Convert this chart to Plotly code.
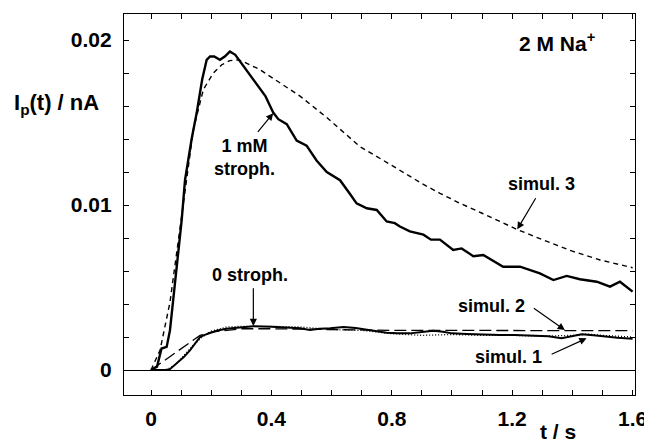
import plotly.graph_objects as go

# ---- data ----
t_1mM = [0.00, 0.02, 0.035, 0.052, 0.063, 0.085, 0.102, 0.113, 0.135, 0.152, 0.170, 0.185,
         0.196, 0.210, 0.229, 0.245, 0.262, 0.280, 0.296, 0.320, 0.351, 0.380, 0.406, 0.423,
         0.451, 0.484, 0.517, 0.550, 0.584, 0.610, 0.628, 0.660, 0.683, 0.717, 0.750, 0.783,
         0.810, 0.827, 0.860, 0.905, 0.930, 0.960, 1.004, 1.032, 1.071, 1.104, 1.170, 1.226,
         1.292, 1.337, 1.381, 1.425, 1.481, 1.525, 1.558, 1.600]
I_1mM = [0.0, 0.0002, 0.0013, 0.0014, 0.0024, 0.0060, 0.0091, 0.0115, 0.0140, 0.0156, 0.0176, 0.0188,
         0.0190, 0.0190, 0.0188, 0.0190, 0.0193, 0.0191, 0.0187, 0.0181, 0.0174, 0.0166, 0.0156, 0.0152,
         0.0149, 0.0139, 0.0136, 0.0127, 0.0120, 0.0117, 0.0115, 0.0107, 0.0101, 0.0098, 0.0097, 0.0090,
         0.0089, 0.0087, 0.0084, 0.0082, 0.0079, 0.0079, 0.00727, 0.00737, 0.0069, 0.00697, 0.00626, 0.00626,
         0.00586, 0.00545, 0.0057, 0.0055, 0.00535, 0.00505, 0.00535, 0.00475]

t_sim3 = [0.0, 0.03, 0.063, 0.096, 0.12, 0.141, 0.174, 0.207, 0.235, 0.262, 0.290, 0.306, 0.362,
          0.395, 0.495, 0.584, 0.694, 0.80, 0.90, 0.96, 1.027, 1.10, 1.215, 1.30, 1.40, 1.492, 1.60]
I_sim3 = [0.0, 0.0012, 0.0041, 0.0085, 0.0120, 0.0146, 0.0170, 0.0180, 0.0185, 0.01875, 0.0188, 0.0187, 0.0182,
          0.0178, 0.0166, 0.0153, 0.01354, 0.0124, 0.0113, 0.01071, 0.0101, 0.0095, 0.00853, 0.0079, 0.0072, 0.00667, 0.0062]

t_0 = [0.0, 0.047, 0.063, 0.085, 0.11, 0.13, 0.15, 0.163, 0.174, 0.19, 0.207, 0.218, 0.25, 0.28,
       0.34, 0.40, 0.45, 0.495, 0.528, 0.56, 0.595, 0.64, 0.68, 0.717, 0.75, 0.783, 0.82, 0.86,
       0.90, 0.938, 0.97, 1.00, 1.049, 1.10, 1.16, 1.209, 1.27, 1.32, 1.364, 1.40, 1.431, 1.47,
       1.508, 1.55, 1.60]
I_0 = [0.0, 0.0, 0.00005, 0.0004, 0.0008, 0.0012, 0.0017, 0.0020, 0.0021, 0.0022, 0.00232, 0.00238, 0.0025, 0.00256,
       0.00265, 0.00262, 0.00258, 0.00253, 0.00243, 0.0025, 0.00253, 0.0026, 0.00255, 0.00246, 0.00238, 0.00226, 0.00222, 0.00222,
       0.0023, 0.00238, 0.00232, 0.00222, 0.00218, 0.00214, 0.00212, 0.00212, 0.00206, 0.00204, 0.00192, 0.00205, 0.00216, 0.0021,
       0.00202, 0.00195, 0.00190]

t_sim1 = [0.0, 0.05, 0.08, 0.11, 0.14, 0.17, 0.2, 0.25, 0.3, 0.4, 0.5, 0.6, 0.7, 0.8, 0.9, 1.0,
          1.1, 1.2, 1.3, 1.4, 1.45, 1.5, 1.6]
I_sim1 = [0.0, 0.0, 0.0003, 0.0009, 0.0015, 0.0020, 0.00235, 0.0026, 0.00265, 0.00265, 0.0026, 0.00245, 0.0024,
          0.0022, 0.0021, 0.00215, 0.0021, 0.0021, 0.00205, 0.0021, 0.00218, 0.0021, 0.0020]

t_sim2 = [0.0, 0.163, 0.2, 0.3, 0.4, 0.6, 0.8, 1.0, 1.2, 1.4, 1.6]
I_sim2 = [0.0, 0.0021, 0.0023, 0.0025, 0.0025, 0.00245, 0.0024, 0.0024, 0.00238, 0.00238, 0.00238]

x_ticks = [round(0.1 * i, 1) for i in range(0, 17)]
x_labels = ["0", "0.4", "0.8", "1.2", "1.6"]
y_ticks = [round(0.002 * i, 3) for i in range(1, 11)]
y_labels = ["0", "0.01", "0.02"]

FONT = "Liberation Sans, Arial, sans-serif"

fig = go.Figure()
fig.add_trace(go.Scatter(x=t_sim3, y=I_sim3, mode="lines", line=dict(color="black", width=1.4, dash="5px,4px")))
fig.add_trace(go.Scatter(x=t_sim2, y=I_sim2, mode="lines", line=dict(color="black", width=1.3, dash="12px,5px")))
fig.add_trace(go.Scatter(x=t_sim1, y=I_sim1, mode="lines", line=dict(color="black", width=1.3, dash="1px,2px")))
fig.add_trace(go.Scatter(x=t_0, y=I_0, mode="lines", line=dict(color="black", width=2)))
fig.add_trace(go.Scatter(x=t_1mM, y=I_1mM, mode="lines", line=dict(color="black", width=2.4)))

def xt_text(v):
    s = f"{v:g}"
    return s if s in x_labels else ""

def yt_text(v):
    s = f"{v:g}"
    return s if s in y_labels else ""

yvals = [0.0] + y_ticks
fig.update_xaxes(range=[-0.0897, 1.608], tickvals=x_ticks, ticktext=[xt_text(v) for v in x_ticks],
                 ticks="inside", ticklen=5, tickwidth=1, tickcolor="black", showline=True, linecolor="black",
                 linewidth=1.3, mirror="allticks", showgrid=False, zeroline=False, automargin=False,
                 tickfont=dict(family=FONT, size=21, color="black", weight="bold"), ticklabelstandoff=5)
fig.update_yaxes(range=[-0.001515, 0.021576], tickvals=yvals, ticktext=[yt_text(v) for v in yvals],
                 ticks="inside", ticklen=5, tickwidth=1, tickcolor="black", showline=True, linecolor="black",
                 linewidth=1.3, mirror="allticks", showgrid=False, zeroline=True, zerolinecolor="black",
                 zerolinewidth=1.3, automargin=False,
                 tickfont=dict(family=FONT, size=21, color="black", weight="bold"), ticklabelstandoff=7)

lab = dict(family=FONT, size=18, color="black", weight="bold")
C = dict(showarrow=False, xanchor="center", yanchor="middle")
ann = [
    dict(x=0.312, y=0.0129, text="1 mM<br>stroph.", font=lab, **C),
    dict(x=1.298, y=0.01125, text="simul. 3", font=lab, **C),
    dict(x=0.329, y=0.00576, text="0 stroph.", font=lab, **C),
    dict(x=1.132, y=0.00388, text="simul. 2", font=lab, **C),
    dict(x=1.187, y=0.00081, text="simul. 1", font=lab, **C),
]
arrows = [
    (0.406, 0.01556, 0.351, 0.01434),
    (1.217, 0.00853, 1.281, 0.0105),
    (0.34, 0.00267, 0.34, 0.00505),
    (1.375, 0.00242, 1.267, 0.0038),
    (1.447, 0.00192, 1.326, 0.00091),
]
for hx, hy, tx, ty in arrows:
    ann.append(dict(x=hx, y=hy, ax=tx, ay=ty, axref="x", ayref="y", xref="x", yref="y", text="",
                    showarrow=True, arrowhead=2, arrowsize=1.2, arrowwidth=1.2, arrowcolor="black"))
big = dict(family=FONT, size=21, color="black", weight="bold")
ann += [
    dict(x=-0.132, y=0.764, xref="paper", yref="paper", text="I<sub>p</sub>(t) / nA",
         font=dict(family=FONT, size=22, color="black", weight="bold"), **C),
    dict(x=0.849, y=-0.097, xref="paper", yref="paper", text="t / s", font=big, **C),
    dict(x=0.847, y=0.927, xref="paper", yref="paper", text="2 M Na<sup>+</sup>", font=big, **C),
]

# the page body adds an 8px offset, so the figure is 8px smaller and margins shifted accordingly
fig.update_layout(width=644, height=436, margin=dict(l=116, r=17, t=6, b=49),
                  paper_bgcolor="white", plot_bgcolor="white", showlegend=False, annotations=ann)
fig.write_html("out.html")
